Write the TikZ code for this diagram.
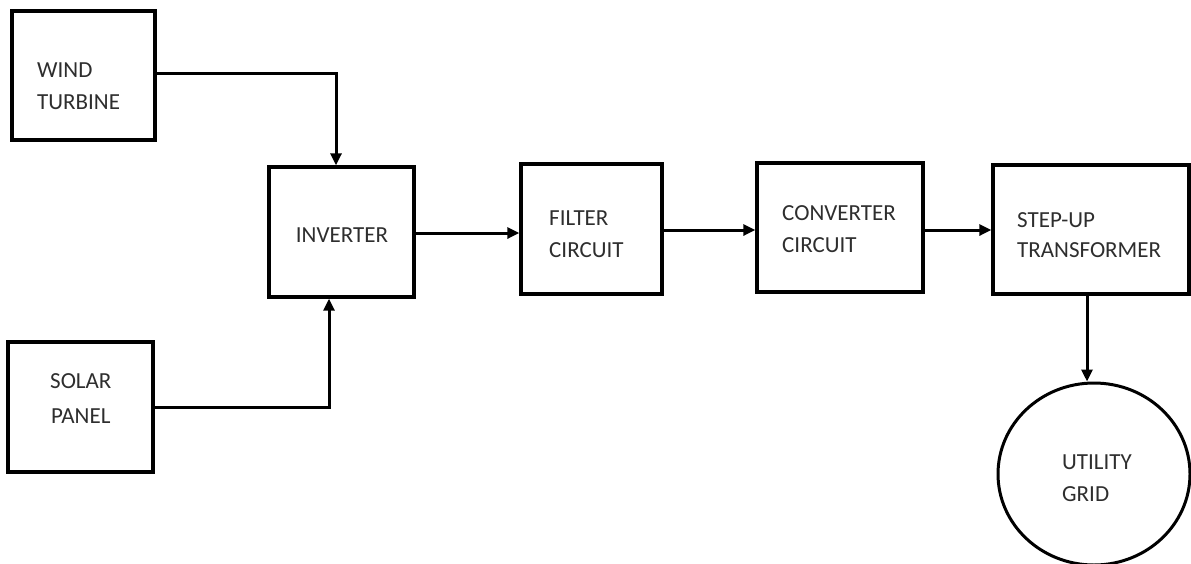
\documentclass[tikz,border=0pt]{standalone}
\usepackage{fontspec}
\setmainfont{Carlito}
\usetikzlibrary{arrows.meta,shapes.geometric}
\begin{document}
\begin{tikzpicture}[x=1pt,y=-1pt,
  blockbox/.style={draw=black,line width=3.4pt,rectangle,inner sep=0pt},
  gridcirc/.style={draw=black,line width=3pt,ellipse,inner sep=0pt,minimum width=192pt,minimum height=182pt},
  lbl/.style={anchor=base west,inner sep=0pt,text=black!82,font=\fontsize{23}{28}\selectfont},
  lblc/.style={anchor=base,inner sep=0pt,text=black!82,font=\fontsize{23}{28}\selectfont},
  conn/.style={draw=black,line width=3pt},
  arr/.style={conn,-{Triangle[length=12pt,width=11pt]}}]
\useasboundingbox (0,0) rectangle (1191,563);
\fill[white] (0,0) rectangle (1191,563);
% boxes
\node[blockbox,minimum width=143pt,minimum height=129pt] (wind) at (83.5,75.5) {};
\node[blockbox,minimum width=145pt,minimum height=130pt] (solar) at (80.5,407) {};
\node[blockbox,minimum width=145pt,minimum height=130pt] (inv) at (341.5,232) {};
\node[blockbox,minimum width=141pt,minimum height=130pt] (filter) at (591.5,229) {};
\node[blockbox,minimum width=166pt,minimum height=129pt] (conv) at (840,227.5) {};
\node[blockbox,minimum width=196pt,minimum height=129pt] (step) at (1091,229.5) {};
\node[gridcirc] (grid) at (1094,474) {};
% labels
\node[lbl] (windA) at (37,77) {WIND};
\node[lbl] (windB) at (37,109) {TURBINE};
\node[lbl] (solarA) at (50,388) {SOLAR};
\node[lbl] (solarB) at (51,423) {PANEL};
\node[lblc] (invA) at (342,242) {INVERTER};
\node[lbl] (filA) at (549,225) {FILTER};
\node[lbl] (filB) at (549,257) {CIRCUIT};
\node[lbl] (convA) at (782,220) {CONVERTER};
\node[lbl] (convB) at (782,252) {CIRCUIT};
\node[lbl] (stepA) at (1017,227) {STEP-UP};
\node[lbl] (stepB) at (1017,257) {TRANSFORMER};
\node[lbl] (gridA) at (1062,469) {UTILITY};
\node[lbl] (gridB) at (1062,501) {GRID};
% connectors
\draw[arr] ([yshift=2.5]wind.east) -| ([xshift=-5.5]inv.north);
\draw[arr] (solar.east) -| ([xshift=-12.5]inv.south);
\draw[arr] ([yshift=-1]inv.east) -- ([yshift=-1]inv.east -| filter.west);
\draw[arr] ([yshift=-1]filter.east) -- ([yshift=-1]filter.east -| conv.west);
\draw[arr] ([yshift=-2.5]conv.east) -- ([yshift=-2.5]conv.east -| step.west);
\draw[arr] ([xshift=-4]step.south) -- ([xshift=-4]step.south |- grid.north);
\end{tikzpicture}
\end{document}
